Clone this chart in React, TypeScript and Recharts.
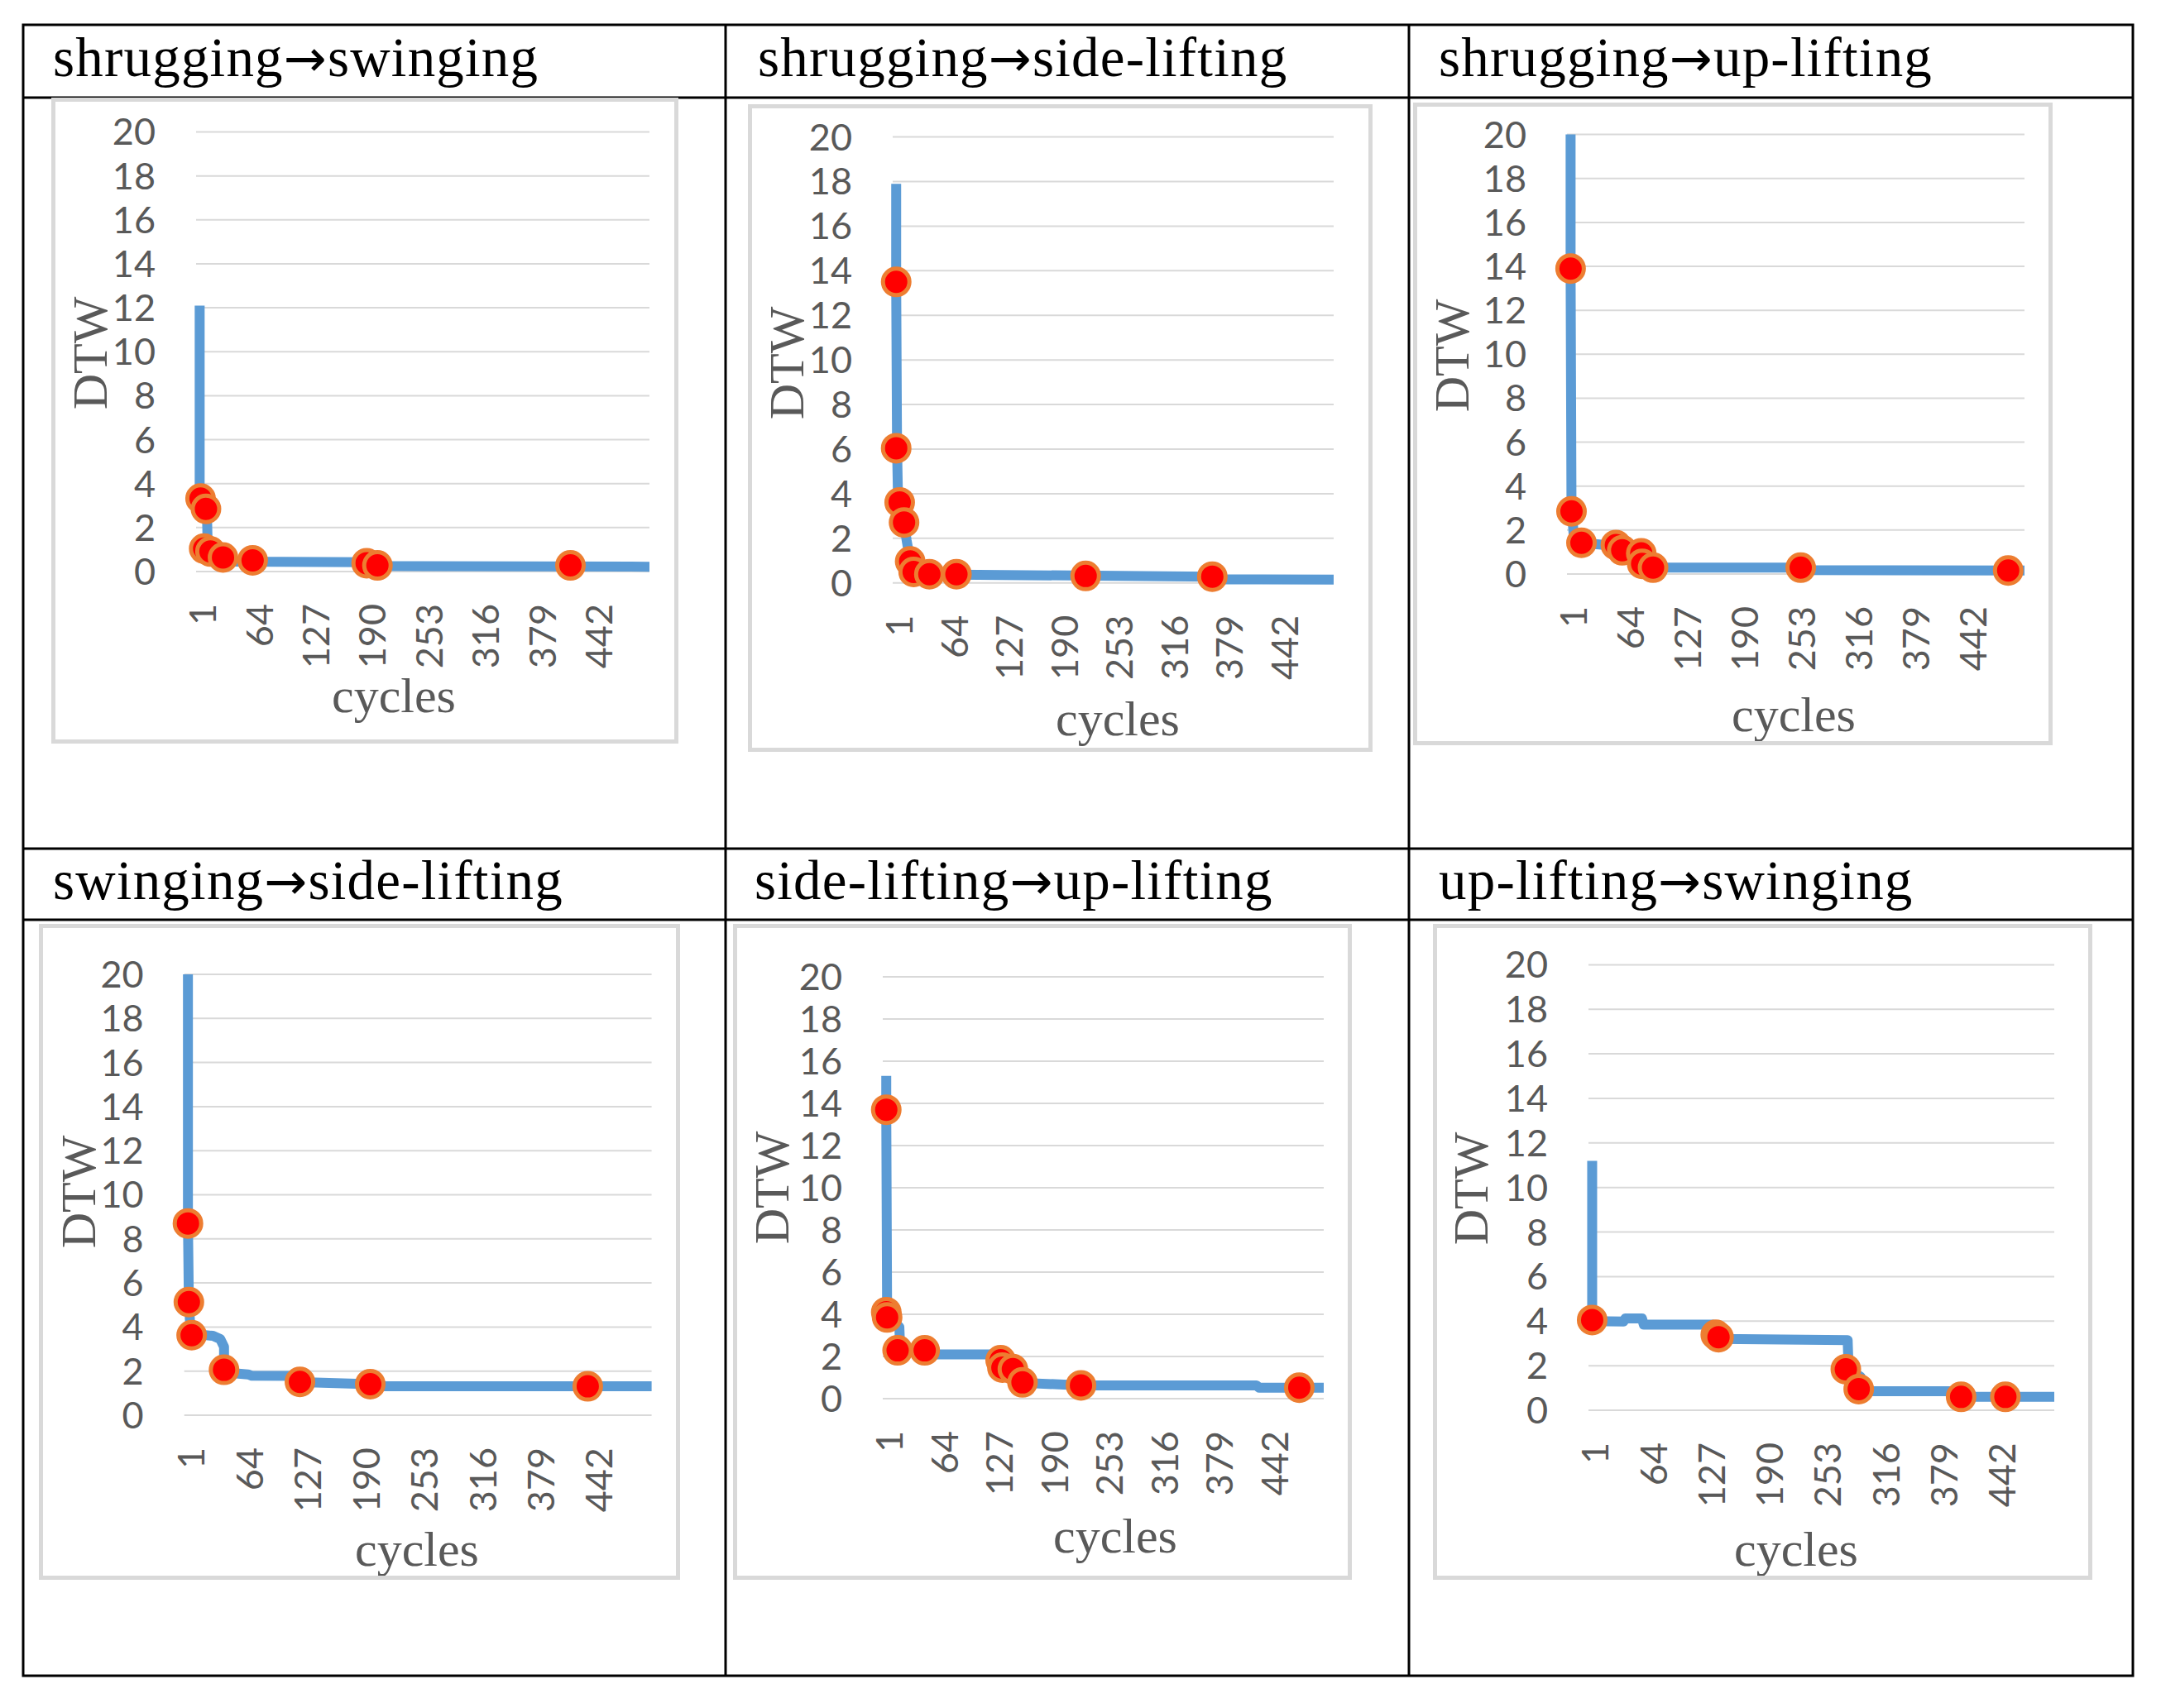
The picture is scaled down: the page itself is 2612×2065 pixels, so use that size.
import { ComposedChart, Line, Scatter, XAxis, YAxis, CartesianGrid } from 'recharts'

const cycleTicks = [1, 64, 127, 190, 253, 316, 379, 442]
const dtwTicks = [0, 2, 4, 6, 8, 10, 12, 14, 16, 18, 20]

const titles = [
  'shrugging→swinging',
  'shrugging→side-lifting',
  'shrugging→up-lifting',
  'swinging→side-lifting',
  'side-lifting→up-lifting',
  'up-lifting→swinging',
]

// [cycle, DTW] (break points of the step-like line)
const curveShrugSwing = [[1, 12.1], [1, 3.4], [9, 2.85], [10, 1.0], [13, 0.9], [27, 0.62], [40, 0.45], [195, 0.42], [198, 0.25], [502, 0.22]]
const curveShrugSide = [[1, 17.9], [1, 13.5], [2, 6.0], [3, 4.0], [5, 3.6], [10, 2.7], [13, 1.9], [17, 1.0], [21, 0.5], [39, 0.38], [364, 0.28], [366, 0.16], [502, 0.15]]
const curveShrugUp = [[1, 20], [1, 13.9], [2, 2.85], [3, 2.6], [5, 1.4], [13, 1.42], [40, 1.32], [51, 1.3], [58, 1.08], [79, 0.94], [80, 0.46], [92, 0.29], [255, 0.29], [260, 0.18], [502, 0.16]]
const curveSwingSide = [[1, 20], [1, 8.7], [2, 5.1], [4, 3.7], [28, 3.6], [36, 3.45], [40, 3.1], [40, 2.1], [45, 1.92], [66, 1.85], [70, 1.79], [121, 1.78], [124, 1.5], [198, 1.41], [205, 1.31], [502, 1.31]]
const curveSideUp = [[1, 15.3], [1, 13.7], [2, 4.0], [16, 3.4], [17, 2.3], [50, 2.1], [125, 2.1], [132, 1.82], [140, 1.45], [150, 1.3], [157, 0.75], [224, 0.63], [425, 0.63], [428, 0.52], [502, 0.52]]
const curveUpSwing = [[1, 11.2], [1, 4.0], [35, 3.98], [37, 4.12], [55, 4.12], [57, 3.84], [132, 3.84], [138, 3.2], [278, 3.15], [279, 1.85], [292, 1.5], [293, 0.85], [405, 0.85], [407, 0.6], [502, 0.6]]

// [cycle, DTW] of the highlighted points
const marksShrugSwing = [[2, 3.32], [8, 2.85], [6, 1.04], [13, 0.91], [27, 0.64], [60, 0.51], [187, 0.38], [199, 0.28], [414, 0.28]]
const marksShrugSide = [[1, 13.5], [1, 6.04], [5, 3.61], [10, 2.71], [17, 0.96], [21, 0.49], [39, 0.39], [70, 0.39], [218, 0.31], [363, 0.28]]
const marksShrugUp = [[1, 13.9], [2, 2.85], [13, 1.42], [51, 1.32], [58, 1.08], [79, 0.94], [80, 0.46], [92, 0.29], [255, 0.29], [484, 0.16]]
const marksSwingSide = [[1, 8.7], [2, 5.13], [5, 3.63], [40, 2.06], [122, 1.51], [198, 1.41], [433, 1.31]]
const marksSideUp = [[1, 13.7], [1, 4.1], [2, 3.85], [14, 2.29], [45, 2.29], [132, 1.82], [134, 1.47], [146, 1.4], [157, 0.77], [224, 0.63], [474, 0.52]]
const marksUpSwing = [[1, 4.05], [135, 3.39], [138, 3.28], [276, 1.84], [290, 0.95], [401, 0.6], [449, 0.6]]

const curves = [curveShrugSwing, curveShrugSide, curveShrugUp, curveSwingSide, curveSideUp, curveUpSwing]
const marks = [marksShrugSwing, marksShrugSide, marksShrugUp, marksSwingSide, marksSideUp, marksUpSwing]

// layout (page px): chart frame [x0, y0, x1, y1], plot [left, right, top, bottom]
const frames = [
  [62, 118, 820, 899], [904, 126, 1659, 909], [1708, 124, 2481, 901],
  [47, 1117, 822, 1910], [886, 1117, 1634, 1910], [1732, 1117, 2529, 1910],
]
const plots = [
  [237, 785, 159.5, 691], [1079, 1612, 165.6, 704.7], [1894, 2447, 162.6, 694],
  [222.7, 787.6, 1178, 1711], [1067, 1600, 1181, 1691], [1920, 2483, 1166.4, 1705],
]
const dtwPos = [[109, 427], [951, 439], [1755, 430], [95, 1441], [933, 1436], [1778, 1437]]
const cyclesPos = [[476, 841], [1351, 869], [2168, 864], [504, 1873], [1348, 1857], [2171, 1873]]
const titlePos = [[64, 92], [916, 92], [1739, 92], [64, 1087], [912, 1087], [1739, 1087]]

const GRAY = '#595959'
const SERIF = '"Liberation Serif", "Times New Roman", serif'
const SANS = 'Lato, "Open Sans", sans-serif'

const toPts = (a: number[][]) => a.map(([cycle, dtw]) => ({ cycle, dtw }))

const CycleTick = (props: any) => {
  const { x, y, payload } = props
  const tx = x + 3
  return (
    <text x={tx} y={y} transform={`rotate(-90 ${tx} ${y})`} textAnchor="end"
      dominantBaseline="central" fill={GRAY} fontSize={45} fontFamily={SANS}>
      {payload.value}
    </text>
  )
}

const Marker = (props: any) => (
  <circle cx={props.cx} cy={props.cy} r={16} fill="#ff0000" stroke="#ed7d31" strokeWidth={5} />
)

function Panel({ i }: { i: number }) {
  const [x0, y0, x1, y1] = frames[i]
  const [pl, pr, pt, pb] = plots[i]
  const w = x1 - x0
  const h = y1 - y0
  const dx = dtwPos[i][0] - x0
  const dy = dtwPos[i][1] - y0
  const cx = cyclesPos[i][0] - x0
  const cy = cyclesPos[i][1] - y0

  return (
    <div style={{ position: 'absolute', left: x0, top: y0, width: w, height: h, background: '#fff' }}>
      <ComposedChart width={w} height={h} margin={{ top: pt - y0, right: x1 - pr, bottom: 0, left: 0 }}>
        <CartesianGrid vertical={false} stroke="#d9d9d9" strokeWidth={2} />
        <XAxis
          type="number"
          dataKey="cycle"
          domain={[-3, 502]}
          ticks={cycleTicks}
          interval={0}
          height={y1 - pb}
          tickLine={false}
          axisLine={false}
          tickMargin={33}
          tick={CycleTick}
          label={{
            value: 'cycles',
            content: () => (
              <text x={cx} y={cy} textAnchor="middle" dominantBaseline="central"
                fill={GRAY} fontSize={60} fontFamily={SERIF}>cycles</text>
            ),
          }}
        />
        <YAxis
          type="number"
          domain={[0, 20]}
          ticks={dtwTicks}
          interval={0}
          width={pl - x0}
          tickLine={false}
          axisLine={false}
          tickMargin={43}
          tick={{ fill: GRAY, fontSize: 45, fontFamily: SANS }}
          label={{
            value: 'DTW',
            content: () => (
              <text x={dx} y={dy} textAnchor="middle" dominantBaseline="central"
                transform={`rotate(-90 ${dx} ${dy})`} fill={GRAY} fontSize={60} fontFamily={SERIF}>DTW</text>
            ),
          }}
        />
        <Line
          data={toPts(curves[i])}
          dataKey="dtw"
          type="linear"
          stroke="#5b9bd5"
          strokeWidth={12}
          strokeLinejoin="round"
          dot={false}
          activeDot={false}
          isAnimationActive={false}
        />
        <Scatter
          data={toPts(marks[i])}
          dataKey="dtw"
          shape={Marker}
          isAnimationActive={false}
        />
      </ComposedChart>
      <div style={{ position: 'absolute', inset: 0, border: '5px solid #d9d9d9', pointerEvents: 'none' }} />
    </div>
  )
}

export default function App() {
  return (
    <div style={{ position: 'absolute', left: 0, top: 0, width: 2612, height: 2065, background: '#fff' }}>
      <svg width={2612} height={2065} style={{ position: 'absolute', left: 0, top: 0 }}>
        <rect x={28} y={30} width={2550} height={1996} fill="none" stroke="#000" strokeWidth={3} />
        <line x1={877} y1={30} x2={877} y2={2026} stroke="#000" strokeWidth={3} />
        <line x1={1703} y1={30} x2={1703} y2={2026} stroke="#000" strokeWidth={3} />
        <line x1={28} y1={118} x2={2578} y2={118} stroke="#000" strokeWidth={3} />
        <line x1={28} y1={1026} x2={2578} y2={1026} stroke="#000" strokeWidth={3} />
        <line x1={28} y1={1112} x2={2578} y2={1112} stroke="#000" strokeWidth={3} />
        {titles.map((t, i) => {
          const [from, to] = t.split('→')
          return (
            <text key={t} x={titlePos[i][0]} y={titlePos[i][1]} fontSize={67} letterSpacing={1.2}
              fontFamily={SERIF} fill="#000">
              {from}
              <tspan fontFamily='"DejaVu Sans", sans-serif' fontSize={62}>→</tspan>
              {to}
            </text>
          )
        })}
      </svg>
      {frames.map((_, i) => <Panel key={i} i={i} />)}
    </div>
  )
}
